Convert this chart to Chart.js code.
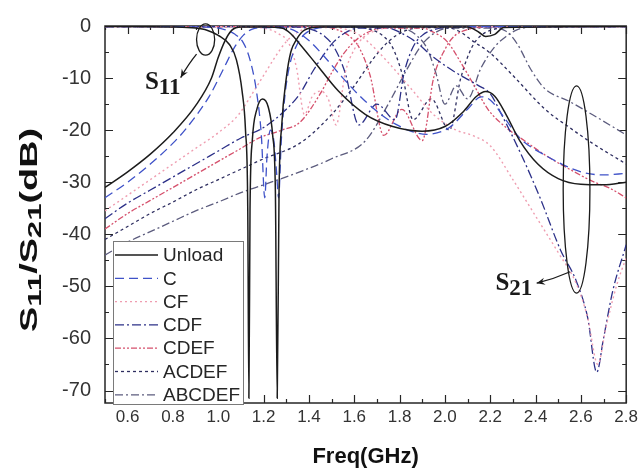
<!DOCTYPE html>
<html>
<head>
<meta charset="utf-8">
<script src="https://cdn.jsdelivr.net/npm/chart.js@4.4.1/dist/chart.umd.min.js"></script>
<style>
  html, body { margin: 0; padding: 0; background: #fff; }
</style>
</head>
<body>
<canvas id="chart" width="642" height="474"></canvas>
<script>
// tick values
const xTicks = [0.6, 0.8, 1.0, 1.2, 1.4, 1.6, 1.8, 2.0, 2.2, 2.4, 2.6, 2.8];
const yTicks = [0, -10, -20, -30, -40, -50, -60, -70];

const seriesNames = ['Unload', 'C', 'CF', 'CDF', 'CDEF', 'ACDEF', 'ABCDEF'];

// [freq GHz, dB]
const unloadS11 = [[0.5,-0.1],[0.8,-0.2],[0.9,-0.4],[0.95,-0.8],[1.0,-1.8],[1.05,-3.6],[1.08,-6.5],[1.105,-12.5],[1.12,-20],[1.13,-35],[1.135,-71.5],[1.14,-35],[1.15,-22],[1.17,-16],[1.195,-14],[1.22,-15.5],[1.24,-21],[1.252,-32],[1.26,-71.5],[1.268,-32],[1.28,-19],[1.3,-10],[1.32,-5],[1.345,-2.6],[1.38,-0.8],[1.45,-0.2],[2.1,-0.2],[2.15,-1.2],[2.18,-2],[2.22,-1.6],[2.26,-0.3],[2.8,-0.1]];
const unloadS21 = [[0.5,-31],[0.6,-28],[0.7,-24.6],[0.8,-20.5],[0.9,-15.3],[0.97,-10],[1.0,-6],[1.03,-2.8],[1.06,-0.8],[1.1,-0.2],[1.2,-0.2],[1.28,-0.4],[1.32,-1.5],[1.36,-3.5],[1.43,-7.2],[1.53,-12.5],[1.65,-17],[1.77,-19.3],[1.9,-20.2],[2.0,-19.3],[2.08,-16.5],[2.14,-13.5],[2.18,-12.6],[2.22,-13.5],[2.27,-17],[2.33,-22],[2.41,-26.5],[2.5,-29.3],[2.6,-30.4],[2.7,-30.5],[2.8,-30]];

const cS11 = [[0.5,-0.1],[0.95,-0.2],[1.02,-0.6],[1.07,-1.5],[1.11,-3.2],[1.14,-6.5],[1.17,-13],[1.19,-21],[1.205,-33],[1.215,-25],[1.23,-20],[1.245,-22],[1.257,-28],[1.266,-33],[1.278,-22],[1.295,-13],[1.315,-7.5],[1.345,-3.8],[1.38,-1.6],[1.43,-0.5],[1.5,-0.2],[2.8,-0.1]];
const cS21 = [[0.5,-33],[0.6,-30],[0.7,-26.5],[0.8,-22.5],[0.86,-19.6],[0.96,-13.5],[1.02,-8.5],[1.07,-4.2],[1.11,-1.8],[1.15,-0.6],[1.2,-0.3],[1.3,-0.4],[1.35,-1.2],[1.4,-2.8],[1.45,-5],[1.55,-10],[1.65,-14.5],[1.78,-18.8],[1.92,-20.8],[2.02,-19.5],[2.1,-16],[2.16,-13.6],[2.2,-14.2],[2.26,-17.5],[2.33,-21.5],[2.45,-25],[2.6,-28],[2.7,-28.6],[2.8,-28.3]];

const cfS11 = [[0.5,-0.1],[1.15,-0.2],[1.22,-0.6],[1.27,-1.6],[1.31,-3.2],[1.345,-8],[1.38,-17],[1.415,-13.5],[1.45,-12.5],[1.485,-14],[1.52,-19],[1.56,-9],[1.6,-4.5],[1.64,-2.2],[1.7,-0.8],[1.78,-0.2],[2.8,-0.1]];
const cfS21 = [[0.5,-35.5],[0.6,-32.5],[0.7,-29.5],[0.8,-26.5],[0.9,-23.5],[1.0,-20.5],[1.09,-17],[1.15,-13],[1.2,-9.5],[1.25,-6],[1.3,-3],[1.35,-1.2],[1.4,-0.4],[1.5,-0.3],[1.56,-0.6],[1.61,-1.4],[1.66,-3],[1.75,-7],[1.85,-12],[1.95,-17],[2.05,-20],[2.12,-21],[2.2,-23],[2.3,-29.5],[2.4,-36.5],[2.5,-43.5],[2.58,-49.5],[2.63,-56],[2.675,-65],[2.71,-58],[2.76,-49.5],[2.8,-44.5]];

const cdfS11 = [[0.5,-0.1],[1.35,-0.2],[1.42,-0.8],[1.47,-2],[1.51,-4],[1.56,-9],[1.62,-19],[1.7,-15],[1.78,-18],[1.82,-9],[1.86,-4],[1.9,-1.8],[1.96,-0.6],[2.05,-0.2],[2.8,-0.1]];
const cdfS21 = [[0.5,-37],[0.6,-34],[0.7,-31.5],[0.8,-29],[0.9,-26.5],[1.0,-24],[1.1,-21.5],[1.2,-19.5],[1.3,-16],[1.36,-13],[1.42,-8.5],[1.47,-5.2],[1.51,-3],[1.56,-1.3],[1.62,-0.4],[1.75,-0.4],[1.8,-1.2],[1.87,-3],[1.95,-6],[2.05,-9],[2.15,-11.5],[2.2,-13],[2.25,-17],[2.34,-25],[2.42,-33],[2.51,-43],[2.58,-49],[2.63,-56],[2.67,-66.5],[2.7,-60],[2.74,-51],[2.8,-42]];

const cdefS11 = [[0.5,-0.1],[1.47,-0.2],[1.53,-0.8],[1.58,-2],[1.62,-4],[1.67,-9.5],[1.73,-21],[1.81,-16],[1.9,-22],[1.95,-10],[2.0,-4.5],[2.04,-2],[2.1,-0.7],[2.18,-0.2],[2.8,-0.1]];
const cdefS21 = [[0.5,-39],[0.6,-36],[0.7,-33.5],[0.8,-31],[0.9,-28.5],[1.0,-26],[1.1,-23.5],[1.18,-21.5],[1.28,-20],[1.36,-18.5],[1.45,-13],[1.5,-9],[1.55,-5.5],[1.6,-3],[1.66,-1.2],[1.72,-0.4],[1.9,-0.4],[1.95,-1.2],[2.01,-3],[2.07,-7],[2.13,-11.5],[2.19,-16],[2.27,-19.5],[2.35,-22],[2.45,-25],[2.55,-27.5],[2.65,-29.8],[2.73,-31.2],[2.8,-33]];

const acdefS11 = [[0.5,-0.1],[1.62,-0.2],[1.68,-0.8],[1.73,-2],[1.77,-4.2],[1.81,-9],[1.86,-18],[1.94,-14],[2.02,-20],[2.07,-10],[2.12,-4],[2.16,-1.8],[2.22,-0.6],[2.3,-0.2],[2.8,-0.1]];
const acdefS21 = [[0.5,-41],[0.6,-38.5],[0.7,-36],[0.8,-33.8],[0.9,-31.5],[1.0,-29.5],[1.1,-27.5],[1.2,-25.5],[1.36,-22.5],[1.5,-17],[1.6,-11.5],[1.68,-6.5],[1.75,-3],[1.82,-1],[1.9,-0.3],[2.02,-0.4],[2.07,-1.2],[2.12,-2.8],[2.2,-5.2],[2.3,-9.5],[2.44,-15.9],[2.55,-19.5],[2.65,-22.5],[2.8,-26.5]];

const abcdefS11 = [[0.5,-0.1],[1.78,-0.2],[1.84,-0.8],[1.88,-2],[1.92,-4.2],[1.96,-9],[2.0,-15],[2.05,-11.5],[2.1,-14],[2.16,-8],[2.22,-4],[2.27,-2],[2.32,-0.7],[2.4,-0.2],[2.8,-0.1]];
const abcdefS21 = [[0.5,-44],[0.6,-41.5],[0.7,-39.5],[0.8,-37.5],[0.9,-35.5],[1.0,-33.8],[1.1,-32],[1.2,-30.5],[1.36,-28],[1.5,-25.5],[1.65,-22],[1.75,-15],[1.83,-8.5],[1.9,-3.5],[1.96,-1.2],[2.02,-0.4],[2.2,-0.4],[2.27,-1],[2.32,-3.5],[2.38,-8.4],[2.44,-12],[2.55,-14.5],[2.65,-17],[2.8,-20.9]];

const s11Data = [unloadS11, cS11, cfS11, cdfS11, cdefS11, acdefS11, abcdefS11];
const s21Data = [unloadS21, cS21, cfS21, cdfS21, cdefS21, acdefS21, abcdefS21];

const lineStyles = [
  { color: '#1c1c1c', dash: [], width: 1.5 },
  { color: '#3f52c8', dash: [9, 5], width: 1.3 },
  { color: '#ef9db0', dash: [2, 3], width: 1.4 },
  { color: '#2c3088', dash: [9, 3, 2, 3], width: 1.3 },
  { color: '#d5506c', dash: [6, 2, 2, 2, 2, 2], width: 1.3 },
  { color: '#2e2e60', dash: [3, 3], width: 1.3 },
  { color: '#5c5c7e', dash: [8, 3, 2, 3], width: 1.3 }
];

const FONT = 'Arial, "Liberation Sans", sans-serif';
const SERIF = '"Times New Roman", "Liberation Serif", serif';

const datasets = [];
seriesNames.forEach((name, i) => {
  const st = lineStyles[i];
  [s11Data[i], s21Data[i]].forEach((arr, k) => {
    datasets.push({
      label: name + (k === 0 ? ' S11' : ' S21'),
      data: arr.map(p => ({ x: p[0], y: p[1] })),
      showLine: true,
      borderColor: st.color,
      borderDash: st.dash,
      borderWidth: st.width,
      pointRadius: 0,
      cubicInterpolationMode: 'monotone',
      fill: false
    });
  });
});

function drawSubText(ctx, parts, x, y) {
  let cx = x;
  parts.forEach(([t, f]) => {
    ctx.font = f.font;
    ctx.fillText(t, cx, y + f.dy);
    cx += ctx.measureText(t).width;
  });
}

const deco = {
  id: 'deco',
  beforeDatasetsDraw(chart) {
    const { ctx, chartArea: a, scales: { x, y } } = chart;
    ctx.save();
    ctx.strokeStyle = '#262626';
    ctx.lineWidth = 1.2;
    ctx.beginPath();
    xTicks.forEach(v => {
      const px = Math.round(x.getPixelForValue(v)) + 0.5;
      ctx.moveTo(px, a.bottom); ctx.lineTo(px, a.bottom - 8);
      ctx.moveTo(px, a.top); ctx.lineTo(px, a.top + 8);
    });
    for (let v = 0.5; v < 2.8; v += 0.2) {
      const px = Math.round(x.getPixelForValue(v)) + 0.5;
      ctx.moveTo(px, a.bottom); ctx.lineTo(px, a.bottom - 4);
      ctx.moveTo(px, a.top); ctx.lineTo(px, a.top + 4);
    }
    yTicks.forEach(v => {
      const py = Math.round(y.getPixelForValue(v)) + 0.5;
      ctx.moveTo(a.left, py); ctx.lineTo(a.left + 8, py);
      ctx.moveTo(a.right, py); ctx.lineTo(a.right - 8, py);
    });
    for (let v = -5; v > -72; v -= 10) {
      const py = Math.round(y.getPixelForValue(v)) + 0.5;
      ctx.moveTo(a.left, py); ctx.lineTo(a.left + 4, py);
      ctx.moveTo(a.right, py); ctx.lineTo(a.right - 4, py);
    }
    ctx.stroke();
    ctx.lineWidth = 1.5;
    ctx.strokeRect(a.left, a.top, a.right - a.left, a.bottom - a.top);
    ctx.restore();
  },
  afterDatasetsDraw(chart) {
    const { ctx, chartArea: a, scales: { x, y } } = chart;
    ctx.save();

    // legend box
    const bx = a.left + 8, by = a.top + 215, bw = 130, bh = 163;
    ctx.fillStyle = '#fff';
    ctx.fillRect(bx, by, bw, bh);
    ctx.strokeStyle = '#7a7a7a';
    ctx.lineWidth = 1;
    ctx.strokeRect(bx + 0.5, by + 0.5, bw, bh);
    ctx.font = '19px ' + FONT;
    ctx.textBaseline = 'middle';
    ctx.fillStyle = '#262626';
    seriesNames.forEach((name, i) => {
      const st = lineStyles[i];
      const ly = by + 14 + i * 23.3;
      ctx.beginPath();
      ctx.strokeStyle = st.color;
      ctx.lineWidth = st.width;
      ctx.setLineDash(st.dash);
      ctx.moveTo(bx + 2, ly); ctx.lineTo(bx + 45, ly);
      ctx.stroke();
      ctx.setLineDash([]);
      ctx.fillText(name, bx + 50, ly + 1);
    });

    // annotations: ellipses, arrows, labels
    ctx.strokeStyle = '#1a1a1a';
    ctx.lineWidth = 1.3;
    const ell = (cx, cy, rx, ry) => {
      const px = x.getPixelForValue(cx), py = y.getPixelForValue(cy);
      const prx = Math.abs(x.getPixelForValue(cx + rx) - px);
      const pry = Math.abs(y.getPixelForValue(cy + ry) - py);
      ctx.beginPath();
      ctx.ellipse(px, py, prx, pry, 0, 0, Math.PI * 2);
      ctx.stroke();
    };
    ell(0.944, -2.6, 0.04, 3);
    ell(2.581, -31.4, 0.059, 19.9);

    const arrow = (x0, y0, xc, yc, x1, y1) => {
      const p0 = [x.getPixelForValue(x0), y.getPixelForValue(y0)];
      const pc = [x.getPixelForValue(xc), y.getPixelForValue(yc)];
      const p1 = [x.getPixelForValue(x1), y.getPixelForValue(y1)];
      ctx.beginPath();
      ctx.moveTo(p0[0], p0[1]);
      ctx.quadraticCurveTo(pc[0], pc[1], p1[0], p1[1]);
      ctx.stroke();
      const ang = Math.atan2(p1[1] - pc[1], p1[0] - pc[0]);
      const L = 9, W = 0.4;
      ctx.beginPath();
      ctx.moveTo(p1[0], p1[1]);
      ctx.lineTo(p1[0] - L * Math.cos(ang - W), p1[1] - L * Math.sin(ang - W));
      ctx.lineTo(p1[0] - L * 0.6 * Math.cos(ang), p1[1] - L * 0.6 * Math.sin(ang));
      ctx.lineTo(p1[0] - L * Math.cos(ang + W), p1[1] - L * Math.sin(ang + W));
      ctx.closePath();
      ctx.fillStyle = '#1a1a1a';
      ctx.fill();
    };
    arrow(0.904, -5.4, 0.87, -7.2, 0.834, -9.9);
    arrow(2.553, -47.2, 2.48, -48.6, 2.405, -49.4);

    ctx.fillStyle = '#1a1a1a';
    ctx.textBaseline = 'alphabetic';
    const big = { font: 'bold 25px ' + SERIF, dy: 0 };
    const small = { font: 'bold 23px ' + SERIF, dy: 5 };
    drawSubText(ctx, [['S', big], ['11', small]], x.getPixelForValue(0.676), y.getPixelForValue(-12.1));
    drawSubText(ctx, [['S', big], ['21', small]], x.getPixelForValue(2.223), y.getPixelForValue(-50.7));

    // y axis title, rotated, with subscripts, stretched along its length
    ctx.save();
    ctx.translate(32, 230);
    ctx.rotate(-Math.PI / 2);
    const tb = { font: 'bold 23px ' + FONT, dy: 0 };
    const ts = { font: 'bold 19px ' + FONT, dy: 5 };
    const parts = [['S', tb], ['11', ts], ['/S', tb], ['21', ts], ['(dB)', tb]];
    let w = 0;
    parts.forEach(([t, f]) => { ctx.font = f.font; w += ctx.measureText(t).width; });
    ctx.scale(204 / w, 1);
    ctx.textBaseline = 'middle';
    ctx.fillStyle = '#111';
    drawSubText(ctx, parts, -w / 2, -1);
    ctx.restore();

    ctx.restore();
  }
};

new Chart(document.getElementById('chart'), {
  type: 'scatter',
  data: { datasets: datasets },
  options: {
    responsive: false,
    animation: false,
    layout: { padding: { top: 15, right: 13, left: 0, bottom: 0 } },
    plugins: {
      legend: { display: false },
      tooltip: { enabled: false }
    },
    scales: {
      x: {
        type: 'linear',
        min: 0.5,
        max: 2.8,
        grid: { display: false, drawTicks: false },
        border: { display: false },
        afterBuildTicks: s => { s.ticks = xTicks.map(v => ({ value: v })); },
        afterFit: s => { s.height = 71; },
        ticks: {
          font: { family: FONT, size: 17 },
          color: '#333',
          padding: 4,
          maxRotation: 0,
          autoSkip: false,
          callback: v => Number(v).toFixed(1)
        },
        title: {
          display: true,
          text: 'Freq(GHz)',
          color: '#111',
          font: { family: FONT, size: 22, weight: 'bold' },
          padding: { top: 0, bottom: 4 }
        }
      },
      y: {
        type: 'linear',
        min: -72.4,
        max: 0,
        grid: { display: false, drawTicks: false },
        border: { display: false },
        afterBuildTicks: s => { s.ticks = yTicks.map(v => ({ value: v })); },
        afterFit: s => { s.width = 105; },
        ticks: {
          font: { family: FONT, size: 20 },
          color: '#333',
          padding: 14,
          autoSkip: false,
          callback: v => String(v)
        }
      }
    }
  },
  plugins: [deco]
});
</script>
</body>
</html>
